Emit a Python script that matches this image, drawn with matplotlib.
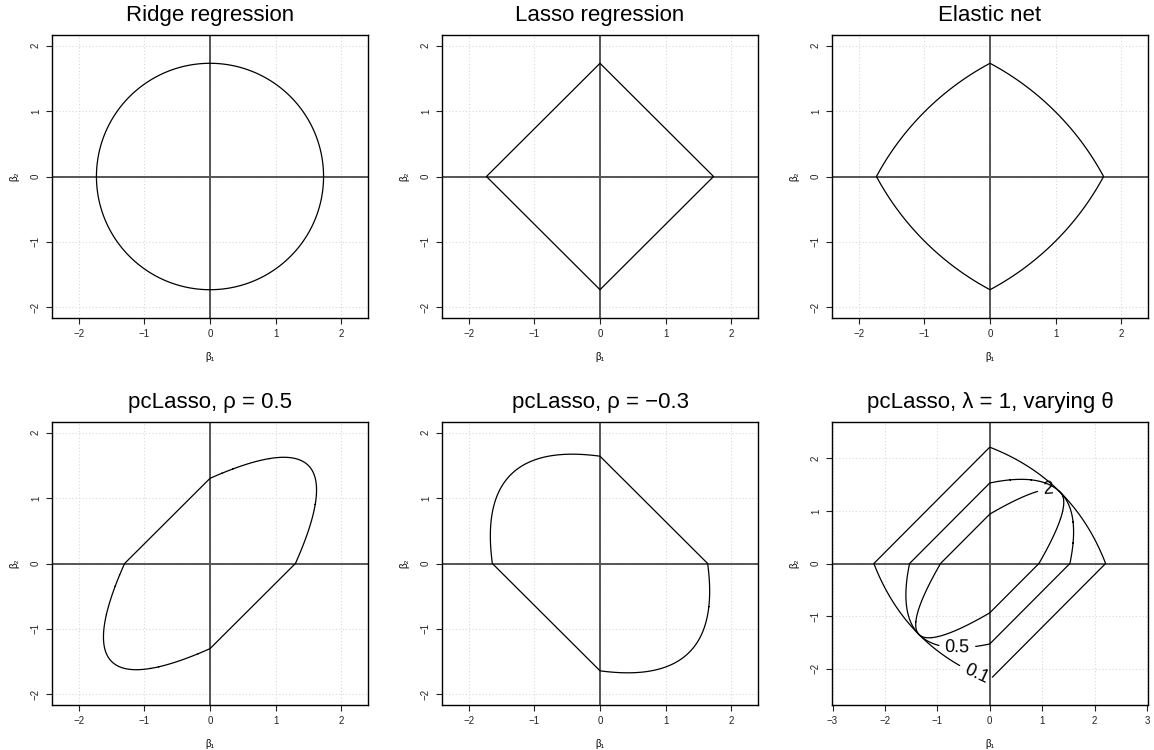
import numpy as np
import matplotlib
matplotlib.use("Agg")
import matplotlib.pyplot as plt

plt.rcParams['font.family'] = ['Liberation Sans', 'DejaVu Sans']

# panel titles
titles = ["Ridge regression", "Lasso regression", "Elastic net",
          "pcLasso, ρ = 0.5", "pcLasso, ρ = −0.3", "pcLasso, λ = 1, varying θ"]

# constraint levels
ridge_level = 3.0            # b1^2 + b2^2
lasso_level = 1.732          # |b1| + |b2|
enet_alpha = 0.8             # mix between l1 and l2
enet_level = 1.986
pc_rho = [0.5, -0.3]
pc_weight = [1.0, 0.4]       # weight on the quadratic pc term
pc_level = [3.0, 2.72]
theta_values = [0.1, 0.5, 2]
theta_labels = ["0.1", "0.5", "2"]
theta_level = 2.7
label_pos = [(-0.25, -2.08), (-0.62, -1.6), (1.12, 1.38)]

ticks_small = [-2, -1, 0, 1, 2]
ticks_big = [-3, -2, -1, 0, 1, 2, 3]

fig = plt.figure(figsize=(11.54, 7.5), dpi=100)

lefts = [52 / 1154, 442 / 1154, 832 / 1154]
bottoms = [1 - 318 / 750, 1 - 705 / 750]
w, h = 316 / 1154, 283 / 750


def setup(ax, title, xlim, ylim, xticks, yticks):
    ax.set_xlim(*xlim)
    ax.set_ylim(*ylim)
    ax.set_xticks(xticks)
    ax.set_yticks(yticks)
    for t in xticks:
        ax.axvline(t, color='#d9d9d9', lw=0.8, ls=(0, (1, 2)), zorder=0)
    for t in yticks:
        ax.axhline(t, color='#d9d9d9', lw=0.8, ls=(0, (1, 2)), zorder=0)
    ax.axhline(0, color='#555555', lw=1.4, zorder=1)
    ax.axvline(0, color='#555555', lw=1.4, zorder=1)
    ax.tick_params(length=4, width=0.8, labelsize=7, pad=4, colors='#222222')
    ax.tick_params(axis='y', labelrotation=90)
    for lab in ax.get_yticklabels():
        lab.set_va('center')
    for s in ax.spines.values():
        s.set_linewidth(1.0)
    ax.set_title(title, fontsize=16, pad=10)
    ax.set_xlabel("β₁", fontsize=7, labelpad=9)
    ax.set_ylabel("β₂", fontsize=7, labelpad=8)


def draw(ax, X, Y, Z, level):
    cs = ax.contour(X, Y, Z, levels=[level], colors='black',
                    linewidths=0.9, zorder=3)
    cs.set_capstyle('round')
    cs.set_joinstyle('round')
    return cs


# grid for the first five panels
g = np.linspace(-2.5, 2.5, 1001)
B1, B2 = np.meshgrid(g, g)

small_xlim = (-2.41, 2.41)
small_ylim = (-2.165, 2.165)

surfaces = [
    B1 ** 2 + B2 ** 2,
    np.abs(B1) + np.abs(B2),
    enet_alpha * (np.abs(B1) + np.abs(B2)) + (1 - enet_alpha) * (B1 ** 2 + B2 ** 2),
]
levels = [ridge_level, lasso_level, enet_level]

for i in range(3):
    ax = fig.add_axes([lefts[i], bottoms[0], w, h])
    setup(ax, titles[i], small_xlim, small_ylim, ticks_small, ticks_small)
    draw(ax, B1, B2, surfaces[i], levels[i])

for j in range(2):
    ax = fig.add_axes([lefts[j], bottoms[1], w, h])
    setup(ax, titles[3 + j], small_xlim, small_ylim, ticks_small, ticks_small)
    if pc_rho[j] > 0:
        quad = (B1 - B2) ** 2
    else:
        quad = (B1 + B2) ** 2
    Z = np.abs(B1) + np.abs(B2) + pc_weight[j] * quad
    draw(ax, B1, B2, Z, pc_level[j])

# last panel: varying theta
ax = fig.add_axes([lefts[2], bottoms[1], w, h])
setup(ax, titles[5], (-3.01, 3.02), (-2.69, 2.69), ticks_big, ticks_small)
g2 = np.linspace(-3, 3, 1201)
C1, C2 = np.meshgrid(g2, g2)
for th, lab, pos in zip(theta_values, theta_labels, label_pos):
    Z = np.abs(C1) + np.abs(C2) + th * (C1 - C2) ** 2
    cs = draw(ax, C1, C2, Z, theta_level)
    ax.clabel(cs, fmt={theta_level: lab}, manual=[pos], inline=True,
              fontsize=13, inline_spacing=6)

fig.savefig("out.png", dpi=100)
